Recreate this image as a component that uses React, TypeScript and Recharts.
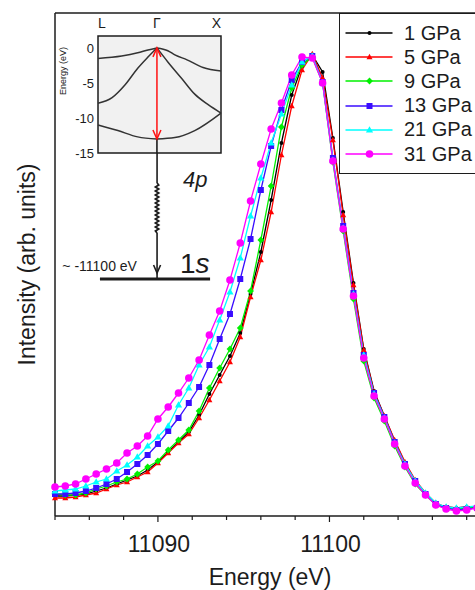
import { LineChart, Line, XAxis, YAxis, ReferenceLine, ReferenceArea, Legend } from 'recharts'

const FONT = '"Liberation Sans", Arial, Helvetica, sans-serif'
const INK = '#1c1c1c'

// photon energy (eV)
const ENERGY = [
  11084.0, 11084.6, 11085.2, 11085.8, 11086.4, 11087.0, 11087.6, 11088.2, 11088.8, 11089.4,
  11090.0, 11090.6, 11091.2, 11091.8, 11092.4, 11093.0, 11093.6, 11094.2, 11094.8, 11095.4,
  11096.0, 11096.6, 11097.2, 11097.8, 11098.4, 11099.0, 11099.6, 11100.2, 11100.8, 11101.4,
  11102.0, 11102.6, 11103.2, 11103.8, 11104.4, 11105.0, 11105.6, 11106.2, 11106.8, 11107.4,
  11108.0, 11108.6, 11109.2, 11109.8,
]

// intensity, arb. units
const I_1GPA = [
  40, 40, 42, 44, 50, 56, 64, 72, 80, 92,
  108, 128, 148, 168, 202, 244, 282, 320, 366, 444,
  528, 632, 746, 842, 900, 922, 888, 756, 608, 466,
  334, 250, 200, 150, 106, 70, 44, 24, 18, 16,
  18, 18, 18, 18,
]
const I_5GPA = [
  36, 36, 38, 42, 46, 54, 62, 68, 78, 88,
  106, 126, 146, 164, 196, 232, 270, 308, 358, 438,
  512, 608, 722, 820, 892, 924, 876, 752, 602, 462,
  332, 248, 200, 152, 108, 72, 46, 26, 18, 16,
  18, 18, 18, 18,
]
const I_9GPA = [
  44, 42, 42, 46, 54, 60, 68, 74, 84, 98,
  110, 132, 152, 172, 210, 256, 296, 334, 376, 450,
  552, 660, 778, 856, 902, 918, 866, 708, 570, 434,
  310, 236, 190, 140, 98, 64, 42, 22, 16, 14,
  16, 18, 18, 18,
]
const I_13GPA = [
  44, 44, 46, 50, 56, 64, 74, 88, 104, 122,
  144, 170, 196, 226, 258, 302, 354, 404, 474, 554,
  652, 740, 812, 872, 908, 920, 868, 716, 580, 446,
  322, 246, 198, 148, 104, 70, 44, 24, 16, 12,
  14, 16, 16, 16,
]
const I_21GPA = [
  50, 52, 54, 60, 68, 74, 90, 102, 118, 140,
  158, 180, 222, 256, 302, 338, 392, 448, 516, 600,
  676, 746, 804, 862, 908, 920, 866, 712, 576, 444,
  322, 244, 196, 146, 104, 70, 46, 26, 18, 16,
  18, 20, 20, 20,
]
const I_31GPA = [
  58, 60, 64, 74, 84, 94, 106, 126, 140, 160,
  194, 218, 246, 276, 312, 362, 410, 472, 546, 630,
  704, 774, 826, 882, 918, 916, 866, 710, 574, 440,
  316, 240, 194, 144, 100, 66, 42, 22, 14, 10,
  12, 16, 16, 16,
]

const SERIES_NAMES = ['1 GPa', '5 GPa', '9 GPa', '13 GPa', '21 GPa', '31 GPa']
const SERIES_VALUES = [I_1GPA, I_5GPA, I_9GPA, I_13GPA, I_21GPA, I_31GPA]
const SERIES_COLORS = ['#000000', '#ff0000', '#00f000', '#3a0cff', '#00ffff', '#ff00ff']
const SERIES_MARKERS = ['dot', 'tri', 'diamond', 'square', 'triUp', 'round']

const ENERGY_TICKS = [11084, 11086, 11088, 11090, 11092, 11094, 11096, 11098, 11100, 11102, 11104, 11106, 11108, 11110]
const ENERGY_LABELS = [11090, 11100]

// inset: band structure along L - Γ - X
const K_TICKS = [0, 0.92, 1.92]
const K_LABELS = ['L', 'Γ', 'X']
const BAND1_K = [0, 0.37, 0.62, 0.78, 0.92, 1.09, 1.2, 1.39, 1.64, 1.92]
const BAND1_E = [-1.5, -1.15, -0.7, -0.3, 0, -0.4, -1.0, -1.7, -2.8, -3.3]
const BAND2_K = [0, 0.22, 0.42, 0.62, 0.78, 0.92, 1.09, 1.31, 1.51, 1.72, 1.92]
const BAND2_E = [-7.9, -7.1, -5.3, -2.9, -1.3, 0, -2.0, -4.4, -6.6, -8.1, -9.3]
const BAND3_K = [0, 0.31, 0.62, 0.92, 1.2, 1.51, 1.92]
const BAND3_E = [-11.0, -11.8, -12.7, -13.0, -12.8, -11.8, -9.3]
const E_TICKS = [0, -5, -10, -15]

// level diagram, drawn in the main chart's units
const GAMMA_ENERGY = 11089.95
const LEVEL_1S = 474

const rows = ENERGY.map((e, i) => {
  const row: Record<string, number> = { e }
  SERIES_VALUES.forEach((vals, s) => {
    row['s' + s] = vals[i]
  })
  return row
})

// split each band at Γ so the cusp stays sharp
const bandHalves = [
  [BAND1_K, BAND1_E],
  [BAND2_K, BAND2_E],
  [BAND3_K, BAND3_E],
].flatMap(([ks, es]) => {
  const pts = ks.map((k, i) => ({ k, en: es[i] }))
  return [pts.filter((p) => p.k <= 0.92), pts.filter((p) => p.k >= 0.92)]
})

function Marker({ kind, cx, cy, color }: { kind: string; cx: number; cy: number; color: string }) {
  switch (kind) {
    case 'dot':
      return <circle cx={cx} cy={cy} r={2} fill={color} />
    case 'tri':
      return <path d={`M${cx},${cy - 3.2}L${cx + 3},${cy + 2.2}L${cx - 3},${cy + 2.2}Z`} fill={color} />
    case 'diamond':
      return <path d={`M${cx},${cy - 3.6}L${cx + 3.4},${cy}L${cx},${cy + 3.6}L${cx - 3.4},${cy}Z`} fill={color} />
    case 'square':
      return <rect x={cx - 3} y={cy - 3} width={6} height={6} fill={color} />
    case 'triUp':
      return <path d={`M${cx},${cy - 3.8}L${cx + 3.6},${cy + 2.6}L${cx - 3.6},${cy + 2.6}Z`} fill={color} />
    default:
      return <circle cx={cx} cy={cy} r={3.8} fill={color} />
  }
}

function EnergyTick({ x, y, payload }: any) {
  const major = payload.value % 10 === 0
  return (
    <g>
      <line x1={x} x2={x} y1={y} y2={y + (major ? 6 : 4)} stroke={INK} strokeWidth={1.2} />
      {ENERGY_LABELS.includes(payload.value) && (
        <text x={x + 1} y={y + 36} textAnchor="middle" fontSize={23} fontFamily={FONT} fill={INK}>
          {payload.value}
        </text>
      )}
    </g>
  )
}

function KTick({ x, y, index }: any) {
  const anchor = index === 0 ? 'start' : index === 2 ? 'end' : 'middle'
  return (
    <text x={x} y={y - 8} textAnchor={anchor} fontSize={14} fontFamily={FONT} fill={INK}>
      {K_LABELS[index]}
    </text>
  )
}

function LegendBox({ payload }: any) {
  return (
    <div style={{ border: `1.5px solid ${INK}`, background: '#fff', padding: '7px 0', width: 160, fontFamily: FONT }}>
      {(payload || []).map((entry: any) => {
        const s = SERIES_NAMES.indexOf(entry.value)
        return (
          <div key={entry.value} style={{ display: 'flex', alignItems: 'center', height: 24.2 }}>
            <svg width={62} height={24} style={{ flex: 'none' }}>
              <line x1={5.5} x2={52.5} y1={12} y2={12} stroke={entry.color} strokeWidth={1.5} />
              <Marker kind={SERIES_MARKERS[s]} cx={29.5} cy={12} color={entry.color} />
            </svg>
            <span style={{ fontSize: 20, marginLeft: 2, color: INK, whiteSpace: 'nowrap' }}>{entry.value}</span>
          </div>
        )
      })}
    </div>
  )
}

function DoubleArrow({ x1, y1, x2, y2 }: any) {
  const top = Math.min(y1, y2)
  const bottom = Math.max(y1, y2)
  return (
    <g stroke="#ff1010" strokeWidth={1.5} fill="none">
      <line x1={x1} x2={x2} y1={top} y2={bottom} />
      <path d={`M${x1 - 4},${top + 9}L${x1},${top}L${x1 + 4},${top + 9}`} />
      <path d={`M${x1 - 4},${bottom - 9}L${x1},${bottom}L${x1 + 4},${bottom - 9}`} />
    </g>
  )
}

function Spring({ x1, y1, y2 }: any) {
  const top = Math.min(y1, y2)
  const bottom = Math.max(y1, y2)
  let d = `M${x1},${top}`
  let side = 1
  for (let y = top + 2; y < bottom; y += 2) {
    d += `L${x1 + side * 1.6},${y}`
    side = -side
  }
  d += `L${x1},${bottom}`
  return <path d={d} stroke={INK} strokeWidth={1.8} fill="none" />
}

function DownArrow({ x1, y1, y2 }: any) {
  const top = Math.min(y1, y2)
  const bottom = Math.max(y1, y2)
  const tip = bottom - 6
  return (
    <g stroke={INK} strokeWidth={1.6} fill="none">
      <line x1={x1} x2={x1} y1={top} y2={bottom} />
      <path d={`M${x1 - 3.5},${tip - 8}L${x1},${tip}L${x1 + 3.5},${tip - 8}`} />
    </g>
  )
}

function Label4p({ viewBox }: any) {
  return (
    <text x={viewBox.x + 26} y={viewBox.y + 34} fontSize={22} fontStyle="italic" fontFamily={FONT} fill={INK}>
      4p
    </text>
  )
}

function Label1s({ viewBox }: any) {
  return (
    <g fontFamily={FONT} fill={INK}>
      <text x={viewBox.x + 80} y={viewBox.y - 6} fontSize={28}>
        1<tspan fontStyle="italic">s</tspan>
      </text>
      <text x={viewBox.x + 37} y={viewBox.y - 8} fontSize={14} textAnchor="end">
        ~ -11100 eV
      </text>
    </g>
  )
}

function InsetYLabel({ viewBox }: any) {
  const x = viewBox.x - 5
  const y = viewBox.y + 35
  return (
    <text x={x} y={y} transform={`rotate(-90, ${x}, ${y})`} textAnchor="middle" dominantBaseline="central" fontSize={9} fontFamily={FONT} fill={INK}>
      Energy (eV)
    </text>
  )
}

export default function App() {
  return (
    <div style={{ position: 'absolute', left: 0, top: 0, width: 475, height: 590, overflow: 'hidden', background: '#fff' }}>
      <LineChart width={520} height={590} data={rows} margin={{ top: 13, right: 19, bottom: 0, left: 0 }}>
        <XAxis
          type="number"
          dataKey="e"
          domain={[11084, 11110]}
          ticks={ENERGY_TICKS}
          interval={0}
          tick={EnergyTick}
          tickLine={false}
          tickSize={0}
          tickMargin={0}
          height={74}
          axisLine={{ stroke: INK, strokeWidth: 1.5 }}
          label={{ value: 'Energy (eV)', position: 'insideBottom', offset: 5, dx: -8, fontSize: 23, fill: INK, fontFamily: FONT }}
        />
        <YAxis
          type="number"
          domain={[0, 1006]}
          tick={false}
          tickLine={false}
          width={55}
          axisLine={{ stroke: INK, strokeWidth: 1.5 }}
          label={{
            value: 'Intensity (arb. units)',
            angle: -90,
            position: 'insideLeft',
            offset: 27,
            fontSize: 23,
            fill: INK,
            fontFamily: FONT,
            style: { textAnchor: 'middle' },
          }}
        />
        <ReferenceLine y={1006} stroke={INK} strokeWidth={1.5} />
        <ReferenceLine
          segment={[{ x: GAMMA_ENERGY, y: 726 }, { x: GAMMA_ENERGY, y: 666 }]}
          stroke={INK}
          strokeWidth={1.6}
          label={Label4p}
        />
        <ReferenceLine segment={[{ x: GAMMA_ENERGY, y: 666 }, { x: GAMMA_ENERGY, y: 566 }]} shape={Spring} />
        <ReferenceLine segment={[{ x: GAMMA_ENERGY, y: 566 }, { x: GAMMA_ENERGY, y: LEVEL_1S }]} shape={DownArrow} />
        <ReferenceLine
          segment={[{ x: 11086.62, y: LEVEL_1S }, { x: 11093.04, y: LEVEL_1S }]}
          stroke={INK}
          strokeWidth={3}
          label={Label1s}
        />
        {SERIES_NAMES.map((name, s) => (
          <Line
            key={name}
            name={name}
            dataKey={'s' + s}
            type="linear"
            stroke={SERIES_COLORS[s]}
            strokeWidth={1.3}
            isAnimationActive={false}
            dot={(p: any) => (
              <Marker key={`${name}-${p.index}`} kind={SERIES_MARKERS[s]} cx={p.cx} cy={p.cy} color={SERIES_COLORS[s]} />
            )}
            activeDot={false}
          />
        ))}
        <Legend
          content={LegendBox}
          itemSorter="dataKey"
          layout="vertical"
          align="center"
          verticalAlign="middle"
          wrapperStyle={{ left: 339, top: 13, width: 'auto', height: 'auto' }}
        />
      </LineChart>

      <div style={{ position: 'absolute', left: 0, top: 0 }}>
        <LineChart width={240} height={160} margin={{ top: 16, right: 19, bottom: 7, left: 68 }}>
          <XAxis
            type="number"
            dataKey="k"
            orientation="top"
            domain={[0, 1.92]}
            ticks={K_TICKS}
            interval={0}
            tick={KTick}
            tickLine={false}
            tickSize={0}
            tickMargin={0}
            axisLine={false}
            height={20}
          />
          <YAxis
            type="number"
            domain={[-15, 1.7]}
            ticks={E_TICKS}
            interval={0}
            width={30}
            tickLine={false}
            tickSize={0}
            tickMargin={4}
            axisLine={false}
            tick={{ fontSize: 13, fill: INK, fontFamily: FONT }}
            label={InsetYLabel}
          />
          <ReferenceArea x1={0} x2={1.92} y1={-15} y2={1.7} fill="#f1f1f1" fillOpacity={1} stroke={INK} strokeWidth={1.5} />
          {bandHalves.map((pts, i) => (
            <Line
              key={i}
              data={pts}
              dataKey="en"
              type="monotone"
              stroke="#333"
              strokeWidth={1.5}
              dot={false}
              activeDot={false}
              isAnimationActive={false}
            />
          ))}
          <ReferenceLine segment={[{ x: 0.92, y: -13 }, { x: 0.92, y: -15 }]} stroke={INK} strokeWidth={1.6} />
          <ReferenceLine segment={[{ x: 0.92, y: 0 }, { x: 0.92, y: -13 }]} shape={DoubleArrow} />
        </LineChart>
      </div>
    </div>
  )
}
